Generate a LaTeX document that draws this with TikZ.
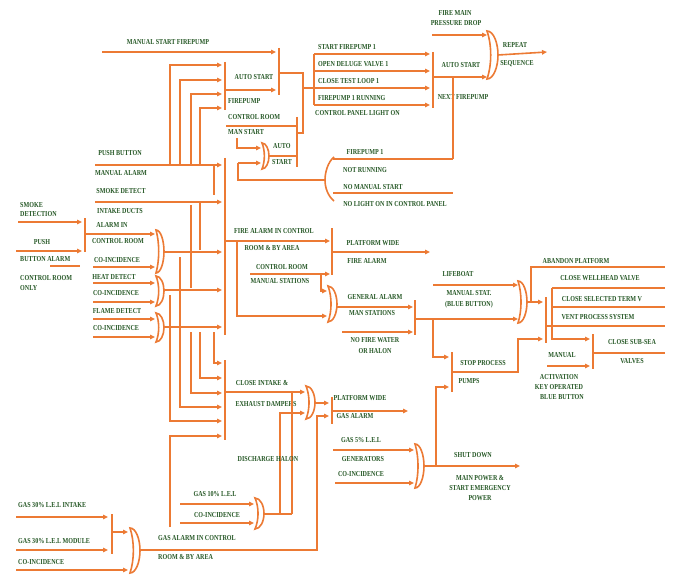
\documentclass[tikz,border=0pt]{standalone}
\usepackage{fontspec}
\newfontfamily\lblfamily{Liberation Serif}[FakeStretch=0.8]
\usetikzlibrary{arrows.meta}
\definecolor{org}{RGB}{236,122,52}
\definecolor{grn}{RGB}{38,88,38}
\newcommand\orgate[4]{%
 \draw[gate] (#1,#3) .. controls ({#1+0.6*(#2-#1)},#3) and (#2,{#3+0.25*(#4-#3)}) .. (#2,{(#3+#4)/2}) .. controls (#2,{#4-0.25*(#4-#3)}) and ({#1+0.6*(#2-#1)},#4) .. (#1,#4) .. controls ({#1+0.45*(#2-#1)},{#4-0.3*(#4-#3)}) and ({#1+0.45*(#2-#1)},{#3+0.3*(#4-#3)}) .. (#1,#3) -- cycle;}
\begin{document}
\begin{tikzpicture}[x=1pt,y=-1pt,
 wire/.style={draw=org,line width=1.6pt},
 arr/.style={wire,-{Triangle[length=5pt,width=4.5pt]}},
 bar/.style={draw=org,line width=2.1pt},
 gate/.style={draw=org,line width=1.6pt,fill=white},
 lbl/.style={text=grn,font=\lblfamily\bfseries\fontsize{7.6}{8.5}\selectfont,inner sep=0pt,text height=5.1pt,text depth=0pt},
 lw/.style={lbl,anchor=west}]
\fill[white] (0,0) rectangle (675,575);
\useasboundingbox (0,0) rectangle (675,575);

% ---------------- TOP ----------------
\node[lbl] (tmsf) at (168,42) {MANUAL START FIREPUMP};
\draw[arr] (102,52) -- (276,52);
\draw[bar] (279,48) -- (279,95);
\draw[bar] (225,62) -- (225,110);
\node[lbl] (tas1) at (254,77) {AUTO START};
\node[lw] (tfp) at (228,101) {FIREPUMP};
\draw[arr] (170,165) -- (170,65) -- (222,65);
\draw[arr] (180,165) -- (180,80) -- (222,80);
\draw[arr] (191,165) -- (191,94) -- (222,94);
\draw[arr] (200,165) -- (200,108) -- (222,108);
\draw[arr] (225,90) -- (276,90);
\draw[wire] (279,73) -- (303,73) -- (303,133) -- (297,133);
\draw[wire] (303,88) -- (314,88);
\draw[wire] (314,54) -- (314,105);
\draw[arr] (314,54) -- (430,54);
\draw[arr] (314,71) -- (430,71);
\draw[arr] (314,88) -- (430,88);
\draw[arr] (314,105) -- (430,105);
\node[lw] (tsf1) at (318,47) {START FIREPUMP 1};
\node[lw] (todv) at (318,64) {OPEN DELUGE VALVE 1};
\node[lw] (tctl) at (318,81) {CLOSE TEST LOOP 1};
\node[lw] (tfpr) at (318,98) {FIREPUMP 1 RUNNING};
\node[lw] (tcpl) at (315,113) {CONTROL PANEL LIGHT ON};
\draw[bar] (433,52) -- (433,108);
\node[lbl] (tas2) at (461,65) {AUTO START};
\node[lbl] (tnfp) at (463,97) {NEXT FIREPUMP};
\draw[arr] (433,77) -- (487,77);
\draw[wire] (453,77) -- (453,159);
\node[lbl] (tfm) at (455,13) {FIRE MAIN};
\node[lbl] (tpd) at (456,23) {PRESSURE DROP};
\draw[arr] (432,35) -- (487,35);
\orgate{487}{498}{31}{79}
\draw[arr] (498,55) -- (547,52);
\node[lbl] (trep) at (515,45) {REPEAT};
\node[lbl] (tseq) at (517,63) {SEQUENCE};

% control room / man start
\node[lw] (tcr1) at (228,117) {CONTROL ROOM};
\node[lw] (tms) at (228,132) {MAN START};
\draw[wire] (226,126) -- (297,126);
\draw[bar] (297,117) -- (297,167);
\draw[arr] (237,138) -- (237,148) -- (261,148);
\draw[arr] (238,163) -- (261,163);
\draw[wire] (238,163) -- (238,180) -- (325,180);
\orgate{262}{269}{143}{169}
\draw[wire] (269,156) -- (297,156);
\node[lw] (tauto) at (273,146) {AUTO};
\node[lw] (tstart) at (272,162) {START};

% left-facing gate
\draw[wire] (334,157) .. controls (328,162) and (325,172) .. (325,180) .. controls (325,188) and (328,196) .. (334,201);
\draw[wire] (333,159) -- (453,159);
\draw[wire] (333,193) -- (453,193);
\node[lbl] (tfp1) at (365,152) {FIREPUMP 1};
\node[lbl] (tnr) at (365,170) {NOT RUNNING};
\node[lbl] (tnms) at (373,187) {NO MANUAL START};
\node[lbl] (tnlo) at (395,204) {NO LIGHT ON IN CONTROL PANEL};

% ---------------- LEFT MIDDLE ----------------
\node[lbl] (tpb) at (120,153) {PUSH BUTTON};
\node[lbl] (tma) at (121,173) {MANUAL ALARM};
\node[lbl] (tsd) at (121,191) {SMOKE DETECT};
\node[lbl] (tid) at (120,211) {INTAKE DUCTS};
\node[lbl] (tai) at (112,225) {ALARM IN};
\node[lbl] (tcr2) at (118,241) {CONTROL ROOM};
\node[lbl] (tci1) at (117,260) {CO-INCIDENCE};
\node[lbl] (thd) at (114,277) {HEAT DETECT};
\node[lbl] (tci2) at (116,293) {CO-INCIDENCE};
\node[lbl] (tfd) at (117,311) {FLAME DETECT};
\node[lbl] (tci3) at (116,328) {CO-INCIDENCE};

\draw[arr] (95,165) -- (222,165);
\draw[arr] (95,202) -- (222,202);
\draw[bar] (85,218) -- (85,252);
\draw[arr] (18,222) -- (82,222);
\draw[arr] (16,251) -- (82,251);
\draw[wire] (50,266) -- (80,266);
\node[lw] (tsm) at (20,205) {SMOKE};
\node[lw] (tdet) at (20,214) {DETECTION};
\node[lbl] (tpush) at (42,242) {PUSH};
\node[lw] (tbal) at (20,259) {BUTTON ALARM};
\node[lw] (tcr3) at (20,278) {CONTROL ROOM};
\node[lw] (tonly) at (20,288) {ONLY};

\draw[arr] (85,234) -- (155,234);
\draw[arr] (93,267) -- (155,267);
\orgate{156}{164}{230}{273}
\draw[arr] (164,252) -- (222,252);
\draw[arr] (93,283) -- (155,283);
\draw[arr] (93,302) -- (155,302);
\orgate{156}{164}{276}{306}
\draw[arr] (164,290) -- (222,290);
\draw[arr] (93,319) -- (155,319);
\draw[arr] (93,337) -- (155,337);
\orgate{156}{164}{313}{342}
\draw[arr] (164,327) -- (222,327);
\draw[bar] (225,158) -- (225,335);

% vertical bus lines
\draw[wire] (214,165) -- (214,195);
\draw[wire] (200,203) -- (200,250);
\draw[wire] (191,205) -- (191,288);
\draw[arr] (180,257) -- (180,407) -- (222,407);
\draw[arr] (170,295) -- (170,421) -- (222,421);
\draw[arr] (214,332) -- (214,363) -- (222,363);
\draw[arr] (200,332) -- (200,378) -- (222,378);
\draw[arr] (191,332) -- (191,393) -- (222,393);
\draw[arr] (170,527) -- (170,436) -- (222,436);
\draw[bar] (225,360) -- (225,440);

% ---------------- FIRE ALARM ----------------
\draw[arr] (225,241) -- (330,241);
\node[lbl] (tfac) at (274,231) {FIRE ALARM IN CONTROL};
\node[lbl] (trba1) at (272,248) {ROOM \& BY AREA};
\draw[arr] (237,241) -- (237,316) -- (327,316);
\draw[bar] (332,228) -- (332,275);
\node[lbl] (tcr4) at (282,267) {CONTROL ROOM};
\node[lbl] (tmst) at (280,281) {MANUAL STATIONS};
\draw[arr] (250,274) -- (330,274);
\draw[arr] (321,274) -- (321,291) -- (327,291);
\orgate{328}{337}{286}{322}
\draw[arr] (337,307) -- (413,307);
\draw[arr] (332,252) -- (430,252);
\node[lbl] (tpw1) at (373,243) {PLATFORM WIDE};
\node[lbl] (tfa) at (367,261) {FIRE ALARM};
\node[lbl] (tga) at (375,297) {GENERAL ALARM};
\node[lbl] (tmst2) at (372,313) {MAN STATIONS};
\draw[arr] (342,332) -- (413,332);
\node[lbl] (tnfw) at (375,340) {NO FIRE WATER};
\node[lbl] (toh) at (375,351) {OR HALON};
\draw[bar] (415,300) -- (415,335);
\draw[arr] (415,319) -- (518,319);
\draw[arr] (433,319) -- (433,357) -- (449,357);
\draw[bar] (452,352) -- (452,392);

% lifeboat
\draw[arr] (433,285) -- (518,285);
\node[lbl] (tlb) at (458,274) {LIFEBOAT};
\node[lbl] (tmsb) at (469,293) {MANUAL STAT.};
\node[lbl] (tbb) at (469,304) {(BLUE BUTTON)};
\orgate{518}{527}{281}{323}
\draw[arr] (527,302) -- (543,302);
\draw[wire] (531,302) -- (531,267) -- (665,267);
\node[lbl] (tap) at (576,261) {ABANDON PLATFORM};
\draw[bar] (546,297) -- (546,343);
\draw[arr] (552,288) -- (552,339) -- (590,339);
\draw[wire] (552,288) -- (665,288);
\node[lbl] (tcwv) at (600,278) {CLOSE WELLHEAD VALVE};
\draw[wire] (552,307) -- (665,307);
\node[lbl] (tcst) at (602,299) {CLOSE SELECTED TERM V};
\draw[wire] (546,326) -- (665,326);
\node[lbl] (tvps) at (598,317) {VENT PROCESS SYSTEM};
\draw[bar] (593,334) -- (593,369);
\draw[arr] (547,366) -- (590,366);
\node[lbl] (tman) at (562,355) {MANUAL};
\draw[wire] (593,353) -- (665,353);
\node[lbl] (tcss) at (632,342) {CLOSE SUB-SEA};
\node[lbl] (tval) at (632,361) {VALVES};
\node[lbl] (tact) at (559,377) {ACTIVATION};
\node[lbl] (tko) at (559,387) {KEY OPERATED};
\node[lbl] (tblb) at (562,397) {BLUE BUTTON};
\draw[arr] (452,372) -- (518,372) -- (518,339) -- (543,339);
\node[lbl] (tsp) at (483,363) {STOP PROCESS};
\node[lbl] (tpumps) at (469,381) {PUMPS};
\draw[arr] (436,466) -- (436,387) -- (449,387);

% ---------------- BOTTOM ----------------
\draw[arr] (225,392) -- (305,392);
\node[lbl] (tcie) at (262,383) {CLOSE INTAKE \&};
\node[lbl] (ted) at (266,404) {EXHAUST DAMPERS};
\orgate{306}{315}{386}{419}
\draw[wire] (292,392) -- (292,514);
\draw[arr] (280,514) -- (280,413) -- (305,413);
\orgate{255}{264}{498}{529}
\draw[wire] (264,514) -- (292,514);
\draw[arr] (180,504) -- (254,504);
\draw[arr] (180,523) -- (254,523);
\node[lbl] (tdh) at (268,459) {DISCHARGE HALON};
\node[lbl] (tg10) at (215,494) {GAS 10\% L.E.L};
\node[lbl] (tci4) at (217,515) {CO-INCIDENCE};
\draw[arr] (315,403) -- (329,403);
\draw[bar] (332,397) -- (332,424);
\draw[arr] (140,550) -- (317,550) -- (317,416) -- (329,416);
\draw[arr] (332,411) -- (408,411);
\node[lbl] (tpw2) at (360,398) {PLATFORM WIDE};
\node[lbl] (tgas) at (355,416) {GAS ALARM};
\orgate{415}{424}{444}{488}
\draw[arr] (333,450) -- (414,450);
\draw[arr] (335,483) -- (414,483);
\draw[arr] (424,466) -- (520,466);
\node[lbl] (tg5) at (361,440) {GAS 5\% L.E.L};
\node[lbl] (tgen) at (363,459) {GENERATORS};
\node[lbl] (tci5) at (361,474) {CO-INCIDENCE};
\node[lbl] (tsdn) at (473,455) {SHUT DOWN};
\node[lbl] (tmp) at (480,478) {MAIN POWER \&};
\node[lbl] (tsem) at (480,488) {START EMERGENCY};
\node[lbl] (tpow) at (480,498) {POWER};

% gas left
\node[lw] (tg30i) at (18,505) {GAS 30\% L.E.L INTAKE};
\draw[arr] (16,517) -- (108,517);
\draw[bar] (112,514) -- (112,554);
\node[lw] (tg30m) at (18,541) {GAS 30\% L.E.L MODULE};
\draw[arr] (16,550) -- (108,550);
\node[lw] (tci6) at (18,562) {CO-INCIDENCE};
\draw[arr] (16,570) -- (128,570);
\draw[arr] (112,532) -- (128,532);
\orgate{130}{140}{528}{573}
\node[lw] (tgac) at (158,538) {GAS ALARM IN CONTROL};
\node[lw] (trba2) at (158,557) {ROOM \& BY AREA};
\end{tikzpicture}
\end{document}
